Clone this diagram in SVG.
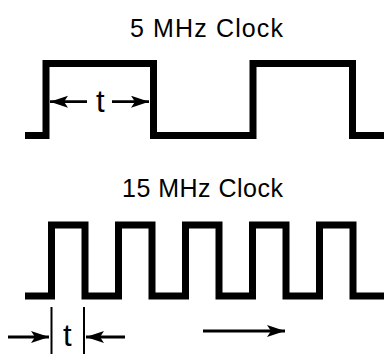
<svg xmlns="http://www.w3.org/2000/svg" width="384" height="354" viewBox="0 0 384 354">
<style>
.wave{fill:none;stroke:#000;stroke-width:7;stroke-linejoin:miter;stroke-linecap:butt}
.dim{fill:none;stroke:#000;stroke-width:2.8}
.tick{fill:none;stroke:#000;stroke-width:2}
.lbl{font-family:"Liberation Sans",Arial,sans-serif;font-size:25px;fill:#000}
.t{font-family:"Liberation Sans",Arial,sans-serif;font-size:31px;fill:#000}
</style>
<defs>
<marker id="ah" markerUnits="userSpaceOnUse" markerWidth="20" markerHeight="14" refX="18" refY="6" orient="auto">
<polygon points="0,0 18,6 0,12 4,6" fill="#000"/>
</marker>
</defs>
<rect width="384" height="354" fill="#fff"/>
<g id="clock5">
<text class="lbl" x="130" y="36.5" textLength="153" lengthAdjust="spacing">5 MHz Clock</text>
<path class="wave" d="M25,135.5 H46 V63.5 H153.5 V135.5 H253 V63.5 H352.5 V135.5 H384"/>
</g>
<g id="clock15">
<text class="lbl" x="122" y="196.7" textLength="161" lengthAdjust="spacing">15 MHz Clock</text>
<path class="wave" d="M25,296 H51.5 V225 H85 V296 H118.5 V225 H152 V296 H185.5 V225 H219 V296 H252.5 V225 H286 V296 H319.5 V225 H353 V296 H384"/>
</g>
<g id="period5">
<text class="t" x="96" y="112">t</text>
</g>
<g id="period15">
<text class="t" x="63" y="346">t</text>
<line class="tick" x1="51.5" y1="307" x2="51.5" y2="354"/>
<line class="tick" x1="84" y1="307" x2="84" y2="354"/>
</g>
<g id="connectors">
<line class="dim" x1="87" y1="101.7" x2="50" y2="101.7" marker-end="url(#ah)"/>
<line class="dim" x1="112" y1="101.7" x2="149" y2="101.7" marker-end="url(#ah)"/>
<line class="dim" x1="8" y1="337" x2="49" y2="337" marker-end="url(#ah)"/>
<line class="dim" x1="125" y1="337" x2="86" y2="337" marker-end="url(#ah)"/>
<line class="dim" x1="203" y1="331" x2="285" y2="331" marker-end="url(#ah)"/>
</g>
</svg>
